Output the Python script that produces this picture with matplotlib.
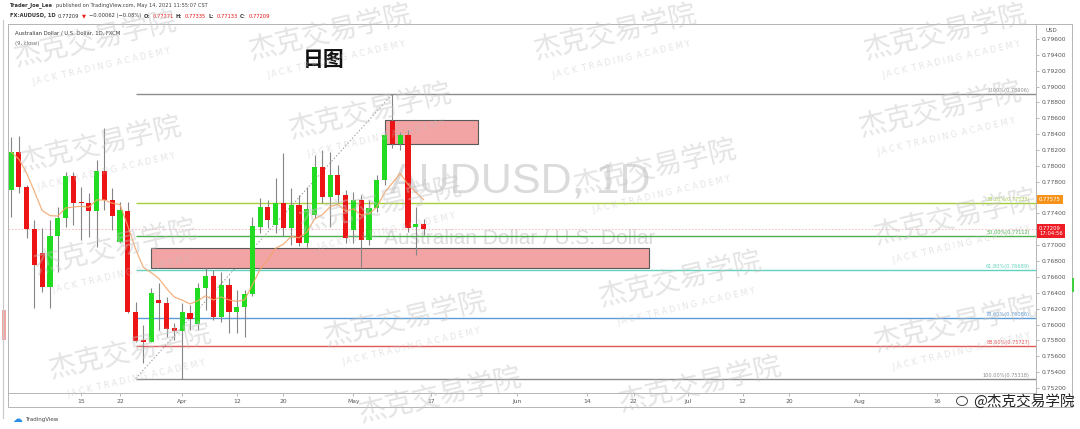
import numpy as np
import pandas as pd
import matplotlib
matplotlib.use("Agg")
import matplotlib.pyplot as plt
import matplotlib.transforms as mtransforms
from matplotlib.patches import Rectangle, Ellipse
from matplotlib.lines import Line2D

plt.rcParams['font.family'] = ['DejaVu Sans', 'Noto Sans CJK SC']

# daily candles FX:AUDUSD, Mar 2 - May 14 2021 (axis runs on into August)
dates = pd.bdate_range("2021-03-02", periods=132)

opens = [0.77696, 0.78175, 0.77734, 0.77205, 0.76902, 0.76474, 0.77116, 0.77343, 0.77873, 0.77545,
         0.77532, 0.77432, 0.77936, 0.77570, 0.77041, 0.77432, 0.76162, 0.75805, 0.75786, 0.76310,
         0.76272, 0.75957, 0.75919, 0.76146, 0.76007, 0.76461, 0.76612, 0.76099, 0.76499, 0.76162,
         0.76218, 0.76385, 0.77234, 0.77488, 0.77255, 0.77529, 0.77214, 0.77507, 0.77024, 0.77381,
         0.77983, 0.77612, 0.77885, 0.77633, 0.77192, 0.77570, 0.77066, 0.77466, 0.77822, 0.78566,
         0.78272, 0.78390, 0.77226, 0.77271]
highs = [0.78365, 0.78377, 0.77759, 0.77318, 0.77217, 0.77318, 0.77482, 0.77923, 0.77923, 0.77734,
         0.77659, 0.78075, 0.78478, 0.77722, 0.77545, 0.77545, 0.76284, 0.75994, 0.76461, 0.76524,
         0.76347, 0.76020, 0.76272, 0.76247, 0.76524, 0.76713, 0.76688, 0.76663, 0.76587, 0.76436,
         0.76436, 0.77356, 0.77596, 0.77570, 0.77848, 0.78163, 0.77722, 0.77633, 0.77734, 0.78138,
         0.78201, 0.78175, 0.78012, 0.77696, 0.77671, 0.77633, 0.77570, 0.77885, 0.78453, 0.78906,
         0.78431, 0.78453, 0.77482, 0.77335]
lows = [0.77356, 0.77659, 0.77091, 0.76209, 0.76410, 0.76209, 0.76663, 0.77230, 0.77255, 0.77066,
        0.77104, 0.76978, 0.77444, 0.77192, 0.77028, 0.76150, 0.75780, 0.75515, 0.75780, 0.75931,
        0.75843, 0.75805, 0.75318, 0.75931, 0.75931, 0.76184, 0.76057, 0.76032, 0.75894, 0.75894,
        0.75843, 0.76360, 0.77154, 0.77217, 0.77154, 0.77116, 0.77003, 0.76990, 0.76978, 0.77343,
        0.77532, 0.77230, 0.77532, 0.77028, 0.77028, 0.76726, 0.77003, 0.77419, 0.77759, 0.78226,
        0.78201, 0.77167, 0.76877, 0.77133]
closes = [0.78175, 0.77734, 0.77205, 0.76751, 0.76474, 0.77116, 0.77343, 0.77873, 0.77532, 0.77532,
          0.77432, 0.77936, 0.77570, 0.77369, 0.77444, 0.76162, 0.75793, 0.75786, 0.76402, 0.76272,
          0.75944, 0.75919, 0.76155, 0.76070, 0.76461, 0.76612, 0.76099, 0.76499, 0.76162, 0.76218,
          0.76385, 0.77243, 0.77488, 0.77318, 0.77529, 0.77214, 0.77507, 0.77024, 0.77453, 0.77983,
          0.77612, 0.77885, 0.77633, 0.77087, 0.77570, 0.77066, 0.77466, 0.77822, 0.78390, 0.78272,
          0.78390, 0.77214, 0.77264, 0.77209]

tick_dates = ["2021-03-15", "2021-03-22", "2021-04-01", "2021-04-12", "2021-04-20", "2021-05-03",
              "2021-05-17", "2021-06-01", "2021-06-14", "2021-06-22", "2021-07-01", "2021-07-12",
              "2021-07-20", "2021-08-02", "2021-08-16"]
tick_labels = ["15", "22", "Apr", "12", "20", "May", "17", "Jun", "14", "22", "Jul", "12", "20", "Aug", "16"]

# fibonacci retracement
fib_high = 0.78906
fib_low = 0.75318
fib_ratios = [0.0, 0.382, 0.5, 0.618, 0.786, 0.886, 1.0]
fib_colors = ["#8c8c8c", "#a6cf3c", "#4caf50", "#62d2bd", "#5d9bd6", "#e25858", "#8c8c8c"]
fib_low_date = "2021-03-24"
fib_high_date = "2021-05-10"

# supply / demand zones: start, end, bottom, top
zone_start = ["2021-03-26", "2021-05-07"]
zone_end = ["2021-06-24", "2021-05-25"]
zone_bottom = [0.76709, 0.78272]
zone_top = [0.76961, 0.78579]

last_price = 0.77209
countdown = "17:04:56"

GREEN = "#21dc21"
RED = "#ec1414"


def idx(d):
    return dates.get_loc(pd.Timestamp(d))


def fx(px):
    return px / 1080


def fy(py):
    return 1 - py / 429


fig = plt.figure(figsize=(10.8, 4.29), dpi=100)
fig.patch.set_facecolor("white")
ax = fig.add_axes([fx(8), fy(393), (1036 - 8) / 1080, (393 - 24) / 429])

x = np.arange(len(closes))
o = np.array(opens)
c = np.array(closes)
colors = [GREEN if cc >= oo else RED for oo, cc in zip(o, c)]

ax.vlines(x, lows, highs, color="#858585", lw=0.8, zorder=3)
body = np.maximum(np.abs(c - o), 0.00005)
ax.bar(x, body, bottom=np.minimum(o, c), width=0.66, color=colors, zorder=4, linewidth=0)

ema = pd.Series(closes).ewm(span=9, adjust=False).mean()
ax.plot(x, ema, color="#f2a468", lw=0.9, alpha=0.85, zorder=5)

# zones
for s, e, b, t in zip(zone_start, zone_end, zone_bottom, zone_top):
    ax.add_patch(Rectangle((idx(s), b), idx(e) - idx(s), t - b, facecolor="#f2a3a3",
                           edgecolor="#5a5a5a", lw=0.8, zorder=2.5))

# fib
xl = (-0.39, 131.7)
blend = mtransforms.blended_transform_factory(ax.transAxes, ax.transData)
for r, col in zip(fib_ratios, fib_colors):
    lvl = fib_high - r * (fib_high - fib_low)
    ax.hlines(lvl, idx(fib_low_date), xl[1], color=col, lw=1.0, zorder=2)
    ax.text(0.994, lvl + 0.00012, "%.2f%%(%.5f)" % (r * 100, lvl), transform=blend,
            ha="right", va="bottom", fontsize=3.6, color=col)
ax.plot([idx(fib_low_date), idx(fib_high_date)], [fib_low, fib_high], color="#9a9a9a",
        lw=0.7, ls=(0, (1.5, 2)), zorder=2)

ax.axhline(last_price, color="#f3b3b3", lw=0.6, ls=(0, (2, 2)), zorder=1.5)

# symbol watermark
ax.text(0.498, 0.572, "AUDUSD, 1D", transform=ax.transAxes, ha="center", va="center",
        fontsize=31, family="Liberation Sans", color="#cfcfcf", alpha=0.75, zorder=1)
ax.text(0.498, 0.418, "Australian Dollar / U.S. Dollar", transform=ax.transAxes, ha="center",
        va="center", fontsize=15, family="Liberation Sans", color="#cfcfcf", alpha=0.75, zorder=1)

ax.set_xlim(*xl)
ax.set_ylim(0.75137, 0.79789)
ax.yaxis.tick_right()
yt = np.arange(0.752, 0.7961, 0.002)
ema_last = ema.iloc[-1]
# price tags cover the scale labels that sit under them
ylabels = ["" if min(abs(v - last_price - 0.0003), abs(v - ema_last)) < 0.0012 else "%.5f" % v
           for v in yt]
ax.set_yticks(yt)
ax.set_yticklabels(ylabels)
ax.set_xticks([idx(d) for d in tick_dates])
ax.set_xticklabels(tick_labels)
ax.tick_params(axis="both", labelsize=4.3, labelcolor="#555555", color="#9a9a9a",
               length=2, width=0.5, pad=2)
for sp in ax.spines.values():
    sp.set_color("#b5b5b5")
    sp.set_linewidth(0.7)

# price tags
ax.text(1.003, last_price - 0.0003, "%.5f\n%s" % (last_price, countdown), transform=blend,
        ha="left", va="center", fontsize=3.8, color="white", linespacing=1.1,
        bbox=dict(boxstyle="square,pad=0.35", fc="#ee1c25", ec="none"), clip_on=False)
ax.text(1.003, ema_last, "%.5f" % ema_last, transform=blend, ha="left", va="center",
        fontsize=3.8, color="white",
        bbox=dict(boxstyle="square,pad=0.35", fc="#f7931a", ec="none"), clip_on=False)

# frame
fig.add_artist(Rectangle((fx(8), fy(407)), fx(1072 - 8), (407 - 24) / 429, fill=False,
                         ec="#b5b5b5", lw=0.7, transform=fig.transFigure))
fig.add_artist(Line2D([fx(3), fx(3)], [fy(418), fy(20)], color="#c8c8c8", lw=0.8))
fig.add_artist(Rectangle((fx(2), fy(340)), fx(4), 30 / 429, fc="#f3a6a6", ec="none",
                         transform=fig.transFigure))
fig.add_artist(Rectangle((fx(1072), fy(292)), fx(2), 14 / 429, fc="#3fcf3f", ec="none",
                         transform=fig.transFigure))

fig.text(fx(1046), fy(31), "USD", fontsize=4, color="#555555", va="center")

# header rows, laid out left to right
renderer = fig.canvas.get_renderer()


def header_row(py, parts):
    px = 10
    for s, col, w in parts:
        t = fig.text(fx(px), fy(py), s, fontsize=3.7, color=col, weight=w, va="center")
        px += t.get_window_extent(renderer).width + 2.5


header_row(5, [("Trader_Joe_Lee", "#333333", "bold"),
               ("published on TradingView.com, May 14, 2021 11:55:07 CST", "#444444", "normal")])
parts = [("FX:AUDUSD, 1D", "#333333", "bold"), ("%.5f" % last_price, "#333333", "normal"),
         ("\u25bc", RED, "normal"), ("\u22120.00062 (\u22120.08%)", "#333333", "normal")]
for lab, val in [("O:", opens[-1]), ("H:", highs[-1]), ("L:", lows[-1]), ("C:", closes[-1])]:
    parts.append((lab, "#333333", "bold"))
    parts.append(("%.5f" % val, RED, "normal"))
header_row(16, parts)

fig.text(fx(15), fy(33), "Australian Dollar / U.S. Dollar, 1D, FXCM", fontsize=3.8,
         color="#333333", va="center")
fig.text(fx(15), fy(44), "(9, close)", fontsize=3.8, color="#666666", va="center")

fig.text(fx(324), fy(60), "日图", fontsize=15, weight="bold", family="Noto Sans CJK SC",
         color="#111111", ha="center", va="center")

# footer
fig.text(fx(17), fy(419), "\u2601", fontsize=7, color="#2a8ee8", ha="center", va="center")
fig.text(fx(25), fy(419), "TradingView", fontsize=4, color="#444444", va="center")
fig.add_artist(Ellipse((fx(962), fy(401)), fx(11), 9 / 429, fill=False, ec="#444444", lw=0.7,
                       transform=fig.transFigure))
fig.text(fx(1075), fy(401), "@杰克交易学院", fontsize=10.5, family="Noto Sans CJK SC",
         color="#222222", ha="right", va="center", zorder=12)

# academy watermarks
marks = [(95, 40), (330, 33), (615, 33), (945, 33),
         (100, 145), (370, 112), (655, 168), (940, 110),
         (115, 248), (380, 205), (680, 280), (955, 218),
         (130, 352), (405, 320), (700, 385), (955, 325), (440, 396)]
for mx, my in marks:
    fig.text(fx(mx), fy(my), "杰克交易学院", fontsize=20, family="Noto Sans CJK SC",
             color="#c4c4c4", alpha=0.45, rotation=13, ha="center", va="center", zorder=10)
    if my + 28 <= 405:
        fig.text(fx(mx + 6), fy(my + 27), "J A C K  T R A D I N G  A C A D E M Y", fontsize=5.8,
                 color="#c4c4c4", alpha=0.45, rotation=13, ha="center", va="center", zorder=10)

fig.savefig("out.png", dpi=100)
